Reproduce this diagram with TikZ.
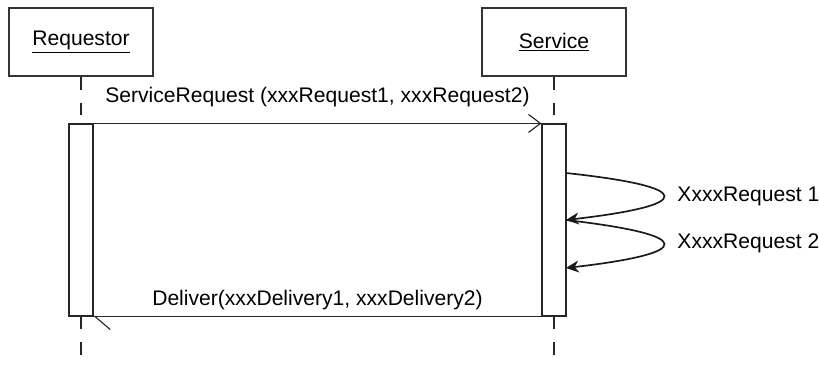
\documentclass[tikz,border=0pt]{standalone}
\usepackage{fontspec}
\setmainfont{Liberation Sans}
\usepackage{tikz}
\usetikzlibrary{arrows.meta}

\begin{document}
\begin{tikzpicture}[font=\fontsize{15}{18}\selectfont]
		\useasboundingbox (0,0) rectangle (20.475,9.125);
		\begin{scope}[every node/.style={rectangle,draw=black!80,line width=1.4pt,minimum width=3.6cm,minimum height=1.7cm}]
			\node (req) at (2.025,8.075) {\underline{Requestor}};
			\node (srv) at (13.85,8.075) {\underline{Service}};
		\end{scope}
		
		\begin{scope}[every node/.style={rectangle,draw=black!85,thick,minimum width=0.6cm,minimum height=4.8cm,inner sep=0pt}]
			\node (reqact) at (2.025,3.625) {};
			\node (srvact) at (13.85,3.625) {};
		\end{scope}
		
		\coordinate (reqend) at (2.025,0);
		\coordinate (srvend) at (13.85,0);
		\coordinate (s1) at (14.15,4.8);
		\coordinate (s2) at (14.15,3.625);
		\coordinate (s3) at (14.15,2.425);
		
		\begin{scope}[every edge/.style={draw=black!85,thick,dash pattern=on 0.32cm off 0.32cm}]
			\path (req) edge (reqact);
			\path (reqact) edge (reqend);
			\path (srv) edge (srvact);
			\path (srvact) edge (srvend);
		\end{scope}
		
		\begin{scope}[every edge/.style={draw=black!85,thick}]
			\path (reqact.north east) edge[-{Straight Barb[length=0.3cm,width=0.45cm]}]
				node[midway,above=0.28cm] {ServiceRequest (xxxRequest1, xxxRequest2)} (srvact.north west);
			\path (srvact.south west) edge[-{Straight Barb[left,length=0.38cm,width=0.65cm]}]
				node[midway,above=0.12cm,inner sep=1pt] {Deliver(xxxDelivery1, xxxDelivery2)} (reqact.south east);
		\end{scope}
		
		\begin{scope}[black!90,line width=1.2pt,-{Stealth[length=0.32cm,width=0.3cm]}]
			\draw (s1) .. controls (17.4,4.45) and (17.4,4.0) .. (s2);
			\draw (s2) .. controls (17.4,3.25) and (17.4,2.8) .. (s3);
		\end{scope}
		
		\begin{scope}[every node/.style={anchor=west,inner sep=0pt}]
			\node (lbl1) at (16.93,4.225) {XxxxRequest 1};
			\node (lbl2) at (16.93,3.05) {XxxxRequest 2};
		\end{scope}
		\end{tikzpicture}
\end{document}
